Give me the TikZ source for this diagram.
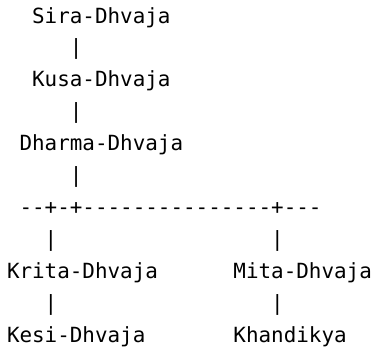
\documentclass[tikz,border=0pt]{standalone}
\usepackage{fontspec}
\setmonofont{DejaVu Sans Mono}
\begin{document}
\begin{tikzpicture}[x=12.58pt,y=-31.9pt,
  txt/.style={inner sep=0pt,outer sep=0pt,anchor=base west,font=\ttfamily\fontsize{20.9pt}{24pt}\selectfont,text=black}]
\useasboundingbox (-7pt,23pt) rectangle ++(374pt,-348pt);
% x origin at column 0 (7pt from left), y origin at first baseline (23pt from top)
\node[txt] (sira)   at (2,0)  {Sira-Dhvaja};
\node[txt] (bar1)   at (5,1)  {|};
\node[txt] (kusa)   at (2,2)  {Kusa-Dhvaja};
\node[txt] (bar2)   at (5,3)  {|};
\node[txt] (dharma) at (1,4)  {Dharma-Dhvaja};
\node[txt] (bar3)   at (5,5)  {|};
\node[txt] (branch) at (1,6)  {--+-+---------------+---};
\node[txt] (bar4)   at (3,7)  {|};
\node[txt] (bar5)   at (21,7) {|};
\node[txt] (krita)  at (0,8)  {Krita-Dhvaja};
\node[txt] (mita)   at (18,8) {Mita-Dhvaja};
\node[txt] (bar6)   at (3,9)  {|};
\node[txt] (bar7)   at (21,9) {|};
\node[txt] (kesi)   at (0,10) {Kesi-Dhvaja};
\node[txt] (khand)  at (18,10){Khandikya};
\end{tikzpicture}
\end{document}
